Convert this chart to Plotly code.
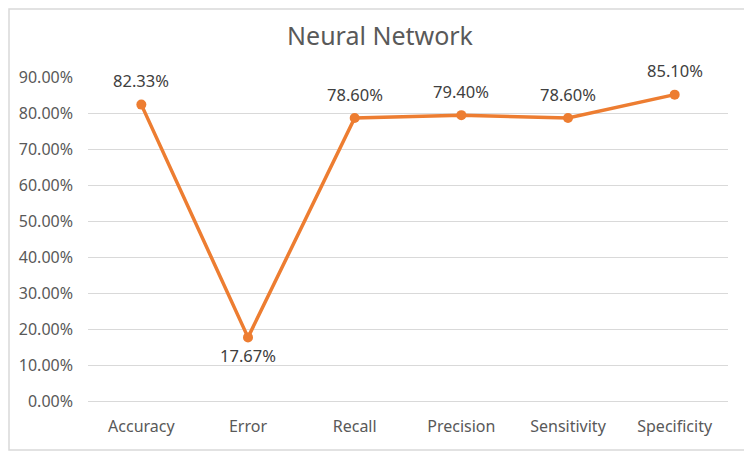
import plotly.graph_objects as go

categories = ["Accuracy", "Error", "Recall", "Precision", "Sensitivity", "Specificity"]
values = [0.8233, 0.1767, 0.786, 0.794, 0.786, 0.851]
labels = ["82.33%", "17.67%", "78.60%", "79.40%", "78.60%", "85.10%"]
label_above = [True, False, True, True, True, True]

FONT = "Noto Sans, Open Sans, sans-serif"
W, H = 744, 443
L, R, T, B = 80, 24, 69, 50

fig = go.Figure()
fig.add_trace(go.Scatter(
    x=categories, y=values, mode="lines+markers",
    line=dict(color="#ED7D31", width=3.5),
    marker=dict(color="#ED7D31", size=10),
    cliponaxis=False, hoverinfo="skip"
))
for c, v, t, up in zip(categories, values, labels, label_above):
    fig.add_annotation(x=c, y=v, text=t, showarrow=False, yanchor="middle",
                       yshift=24 if up else -18,
                       font=dict(color="#404040", size=16.5, family=FONT))
fig.update_layout(
    width=W, height=H,
    margin=dict(l=L, r=R, t=T, b=B, autoexpand=False),
    paper_bgcolor="white", plot_bgcolor="white",
    showlegend=False,
    title=dict(text="Neural Network", x=0.5, xanchor="center", y=1 - 28 / H, yanchor="middle",
               font=dict(size=25, color="#595959", family=FONT)),
    font=dict(family=FONT, color="#595959", size=16),
)
fig.update_xaxes(range=[-0.5, 5.5], showgrid=False, showline=True, linecolor="#D9D9D9", linewidth=1,
                 ticks="", tickfont=dict(size=16, color="#595959"), ticklabelstandoff=11,
                 automargin=False)
fig.update_yaxes(range=[0, 0.9], dtick=0.1, tickformat=".2%", showgrid=True,
                 gridcolor="#D9D9D9", gridwidth=1, zeroline=False, showline=False,
                 ticks="", tickfont=dict(size=16, color="#595959"), ticklabelstandoff=14,
                 automargin=False)
pw, ph = W - L - R, H - T - B
fig.add_shape(type="rect", xref="x domain", yref="y domain",
              x0=-(L - 1) / pw, x1=1 + (R - 1) / pw, y0=-(B - 1) / ph, y1=1 + (T - 1) / ph,
              line=dict(color="#D9D9D9", width=1.5))
fig.write_html("out.html")
